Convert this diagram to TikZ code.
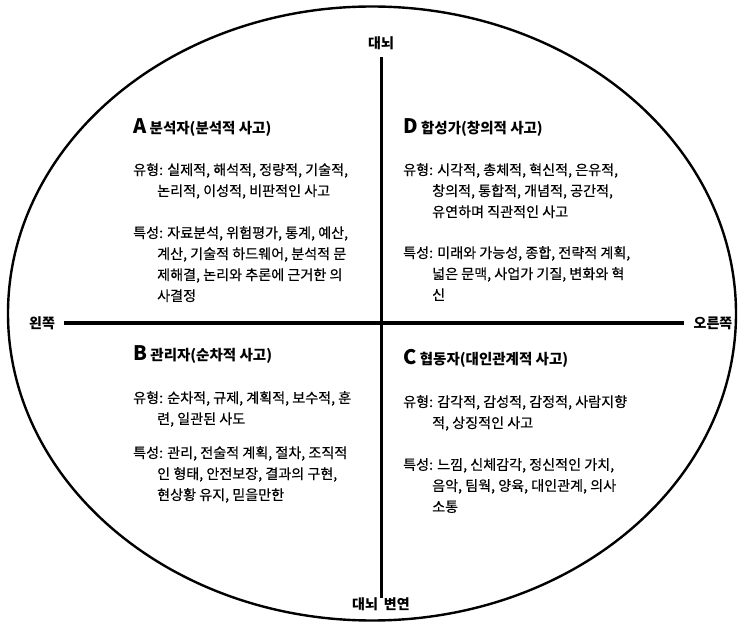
\documentclass[tikz,border=0pt]{standalone}
\usepackage{fontspec}
\setmainfont{Noto Sans CJK KR}
\newfontfamily\bodyfont[FakeBold=0.35]{Noto Sans CJK KR}
\usetikzlibrary{shapes.geometric}
\tikzset{
  hdr/.style={anchor=west, inner sep=0pt, font=\fontsize{14.5}{18}\selectfont\bfseries},
  para/.style={anchor=north west, inner sep=0pt, align=left, font=\bodyfont\fontsize{14.1}{21}\selectfont},
  side/.style={inner sep=0pt, font=\fontsize{14}{16}\selectfont\bfseries},
}
\newcommand{\qletter}[1]{{\fontsize{20}{20}\selectfont #1}}
\newcommand{\indl}{\hspace*{24pt}}
\newcommand{\indr}{\hspace*{29pt}}
\begin{document}
\begin{tikzpicture}[x=1pt,y=-1pt]
\useasboundingbox (0,0) rectangle (742,628);
% outline
\draw[line width=2.4pt] (372,313.5) ellipse [x radius=364pt, y radius=307pt];
% axis labels
\node[side] (top) at (381,43) {대뇌};
\node[side] (bot) at (381,604) {대뇌\hspace{6pt}변연};
\node[side] (left) at (42,323) {왼쪽};
\node[side] (right) at (713,323) {오른쪽};
\draw[line width=3.8pt] ([xshift=9pt]left.east) -- ([xshift=-9pt]right.west |- left.east);
\draw[line width=3pt] ([yshift=-7pt]top.south) -- ([yshift=-1pt]bot.north);
% A
\node[hdr] (Ah) at (133,128) {\qletter{A} 분석자(분석적 사고)};
\node[para] (At) at (133,163) {유형: 실제적, 해석적, 정량적, 기술적,\\\indl 논리적, 이성적, 비판적인 사고};
\node[para] (Ac) at (133,226) {특성: 자료분석, 위험평가, 통계, 예산,\\\indl 계산, 기술적 하드웨어, 분석적 문\\\indl 제해결, 논리와 추론에 근거한 의\\\indl 사결정};
% D
\node[hdr] (Dh) at (403,128) {\qletter{D} 합성가(창의적 사고)};
\node[para] (Dt) at (403,163) {유형: 시각적, 총체적, 혁신적, 은유적,\\\indr 창의적, 통합적, 개념적, 공간적,\\\indr 유연하며 직관적인 사고};
\node[para] (Dc) at (403,246) {특성: 미래와 가능성, 종합, 전략적 계획,\\\indr 넓은 문맥, 사업가 기질, 변화와 혁\\\indr 신};
% B
\node[hdr] (Bh) at (133,355) {\qletter{B} 관리자(순차적 사고)};
\node[para] (Bt) at (133,391) {유형: 순차적, 규제, 계획적, 보수적, 훈\\\indl 련, 일관된 사도};
\node[para] (Bc) at (133,446) {특성: 관리, 전술적 계획, 절차, 조직적\\\indl 인 형태, 안전보장, 결과의 구현,\\\indl 현상황 유지, 믿을만한};
% C
\node[hdr] (Ch) at (403,358) {\qletter{C} 협동자(대인관계적 사고)};
\node[para] (Ct) at (403,395) {유형: 감각적, 감성적, 감정적, 사람지향\\\indr 적, 상징적인 사고};
\node[para] (Cc) at (403,458) {특성: 느낌, 신체감각, 정신적인 가치,\\\indr 음악, 팀웍, 양육, 대인관계, 의사\\\indr 소통};
\end{tikzpicture}
\end{document}
